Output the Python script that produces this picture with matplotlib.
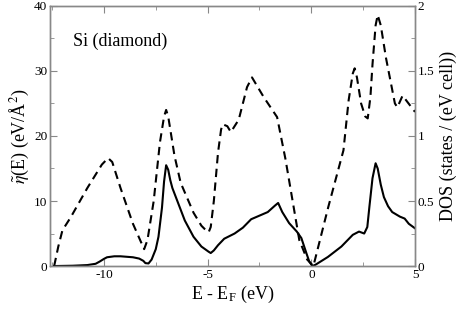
import numpy as np
import matplotlib
matplotlib.use("Agg")
from matplotlib import pyplot as plt
from matplotlib.ticker import MultipleLocator

# eta~(E), solid line, left axis (eV/A^2)
eta_e = [-12.4, -11.5, -10.8, -10.4, -10.2, -10.0, -9.85, -9.5, -9.2, -8.6, -8.3,
         -8.1, -8.0, -7.85, -7.7, -7.5, -7.37, -7.2, -7.1, -7.0, -6.9, -6.8, -6.7,
         -6.46, -6.1, -5.68, -5.3, -4.95, -4.85, -4.7, -4.5, -4.2, -3.7, -3.3, -2.9,
         -2.1, -1.75, -1.6, -1.4, -1.07, -0.7, -0.48, -0.24, -0.1, 0.05, 0.2, 0.4,
         0.8, 1.45, 2.0, 2.3, 2.55, 2.7, 2.8, 2.95, 3.1, 3.2, 3.35, 3.5, 3.7, 3.9,
         4.27, 4.5, 4.7, 5.0]
eta_val = [0, 0.05, 0.15, 0.35, 0.7, 1.1, 1.35, 1.5, 1.5, 1.35, 1.15,
           0.8, 0.45, 0.4, 1.0, 2.6, 4.5, 9.0, 13.0, 15.5, 14.8, 13.2, 12.0,
           10.0, 7.0, 4.5, 3.0, 2.2, 2.0, 2.4, 3.2, 4.2, 5.0, 5.9, 7.2,
           8.3, 9.3, 9.7, 8.3, 6.6, 5.3, 4.3, 2.0, 0.7, 0, 0.2, 0.6,
           1.4, 3.0, 4.8, 5.3, 5.0, 6.0, 9.1, 13.5, 15.8, 15.0, 12.5, 10.6, 9.2, 8.3,
           7.6, 7.3, 6.5, 5.8]

# DOS, dashed line, right axis (states / (eV cell))
dos_e = [-12.4, -12.2, -12.0, -11.6, -10.8, -10.1, -9.8, -9.6, -9.2, -8.6, -8.2,
         -8.06, -7.9, -7.6, -7.3, -7.1, -7.0, -6.9, -6.6, -6.3, -5.68, -5.3, -5.05,
         -4.95, -4.85, -4.7, -4.5, -4.35, -4.27, -4.05, -3.88, -3.5, -3.1, -2.86,
         -2.3, -1.65, -1.25, -0.58, -0.2, 0.1, 0.82, 1.55, 1.8, 2.0, 2.09, 2.2, 2.4,
         2.6, 2.72, 2.85, 2.95, 3.1, 3.2, 3.35, 3.6, 4.03, 4.15, 4.4, 5.0]
dos_val = [0, 0.15, 0.275, 0.375, 0.6, 0.78, 0.83, 0.8, 0.6, 0.325, 0.18,
           0.13, 0.2, 0.5, 0.95, 1.15, 1.2, 1.15, 0.85, 0.64, 0.41, 0.31, 0.27,
           0.26, 0.3, 0.5, 0.87, 1.05, 1.09, 1.075, 1.03, 1.125, 1.375, 1.45,
           1.3, 1.145, 0.825, 0.2, 0.05, 0, 0.455, 0.89, 1.275, 1.48, 1.52, 1.45, 1.25,
           1.15, 1.135, 1.3, 1.55, 1.85, 1.93, 1.85, 1.6, 1.25, 1.22, 1.31, 1.185]

plt.rcParams['font.family'] = ['Liberation Serif', 'DejaVu Serif']
plt.rcParams['mathtext.fontset'] = 'stix'
plt.rcParams['axes.unicode_minus'] = False

fig = plt.figure(figsize=(4.6, 3.09), dpi=100)
ax = fig.add_axes([0.1087, 0.139, 0.7935, 0.842])
ax2 = ax.twinx()

ax.plot(eta_e, eta_val, color='black', lw=1.5)
dash, = ax2.plot(dos_e, dos_val, color='black', lw=1.5)
dash.set_dashes([4.0, 2.6])

ax.set_xlim(-12.6, 5)
ax.set_ylim(0, 40)

ax.set_xticks([-10, -5, 0, 5])
ax.xaxis.set_minor_locator(MultipleLocator(2.5))
ax.set_yticks([0, 10, 20, 30, 40])
ax.yaxis.set_minor_locator(MultipleLocator(5))
ax2.set_yticks([0, 0.5, 1, 1.5, 2])
ax2.set_yticklabels(['0', '0.5', '1', '1.5', '2'])
ax2.yaxis.set_minor_locator(MultipleLocator(0.25))
ax2.set_ylim(0, 2)

for a in (ax, ax2):
    for s in a.spines.values():
        s.set_color('#888888')
        s.set_linewidth(1.0)
ax.tick_params(which='both', direction='in', top=True, right=False,
               color='#888888', labelsize=9.5, pad=2)
ax.tick_params(which='major', length=5)
ax.tick_params(which='minor', length=3)
ax2.tick_params(which='both', direction='in', color='#888888', labelsize=9.5, pad=2)
ax2.tick_params(which='major', length=5)
ax2.tick_params(which='minor', length=3)

ax.set_xlabel(r'E - E$_\mathregular{F}$ (eV)', fontsize=13, labelpad=2)
ax.set_ylabel(r'$\tilde{\eta}$(E) (eV/$\mathregular{\AA}^2$)', fontsize=13, labelpad=2)
ax2.set_ylabel('DOS (states / (eV cell))', fontsize=13, labelpad=4)

ax.text(-11.5, 34.5, 'Si (diamond)', fontsize=13, va='center')

fig.savefig('out.png', dpi=100)
